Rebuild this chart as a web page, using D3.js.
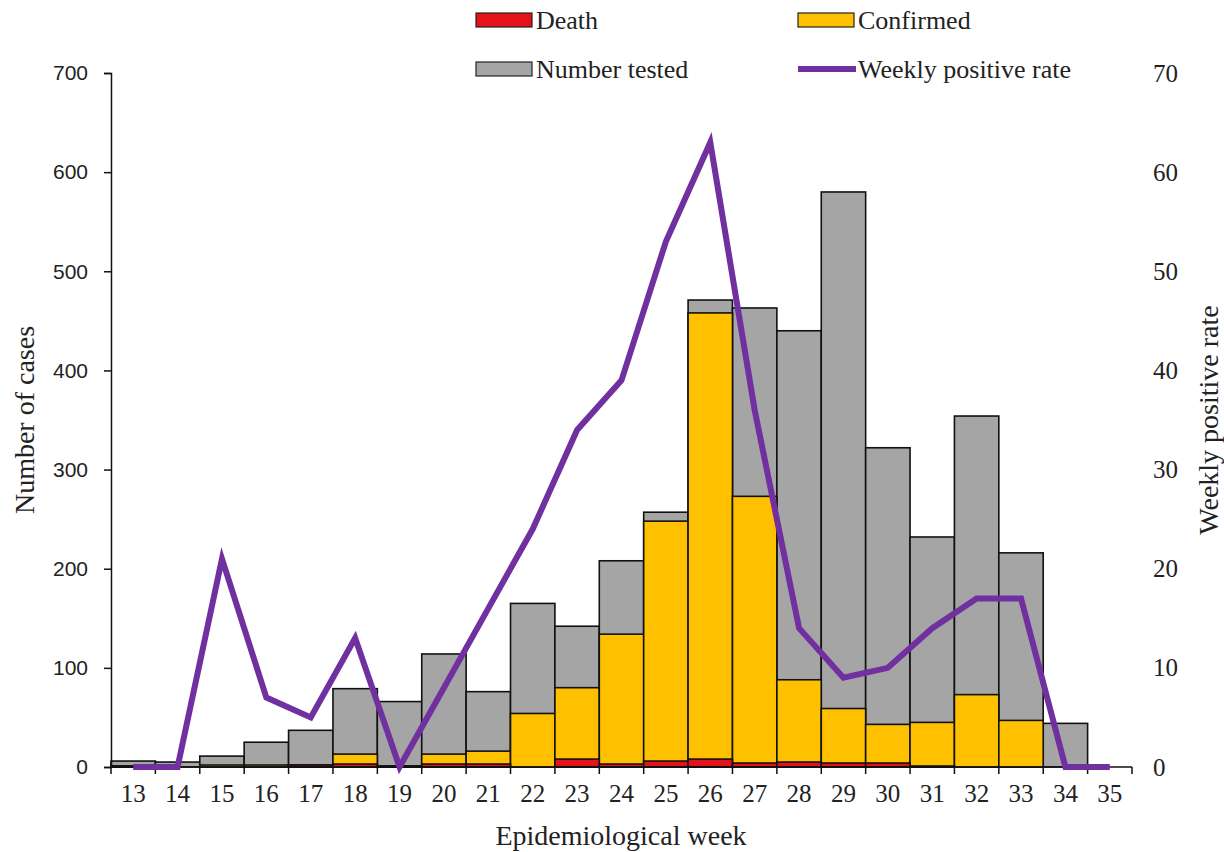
<!DOCTYPE html>
<html>
<head>
<meta charset="utf-8">
<script src="https://cdn.jsdelivr.net/npm/d3@7"></script>
<style>
  html, body { margin: 0; padding: 0; background: #fff; }
  svg text { fill: #222; }
</style>
</head>
<body>
<svg id="chart" width="1224" height="852"></svg>
<script>
// Data
const weeks = [13, 14, 15, 16, 17, 18, 19, 20, 21, 22, 23, 24, 25, 26, 27, 28, 29, 30, 31, 32, 33, 34, 35];
const tested = [6, 5, 11, 25, 37, 79, 66, 114, 76, 165, 142, 208, 257, 471, 463, 440, 580, 322, 232, 354, 216, 44, 0];
const confirmed = [1, 0, 2, 2, 2, 13, 1, 13, 16, 54, 80, 134, 248, 458, 273, 88, 59, 43, 45, 73, 47, 0, 0];
const deaths = [1, 0, 0, 0, 2, 3, 1, 3, 3, 0, 8, 3, 6, 8, 4, 5, 4, 4, 1, 0, 0, 0, 0];
const positiveRate = [0, 0, 21, 7, 5, 13, 0, 8, 16, 24, 34, 39, 53, 63, 36, 14, 9, 10, 14, 17, 17, 0, 0];
const leftTicks = [0, 100, 200, 300, 400, 500, 600, 700];
const rightTicks = [0, 10, 20, 30, 40, 50, 60, 70];

const serif = '"Liberation Serif", "DejaVu Serif", serif';
const sans = '"Liberation Sans", "DejaVu Sans", sans-serif';

const svg = d3.select('#chart');

// Plot area
const plotLeft = 111, plotRight = 1132, plotTop = 73, plotBottom = 767;

const x = d3.scaleBand().domain(weeks).range([plotLeft, plotRight]).padding(0);
const yCases = d3.scaleLinear().domain([0, 700]).range([plotBottom, plotTop]);
const yRate = d3.scaleLinear().domain([0, 70]).range([plotBottom, plotTop]);

// Bars: tested at the back, then confirmed, then deaths, all from zero
function drawBars(values, color, cls) {
  svg.append('g').attr('class', cls)
    .selectAll('rect')
    .data(weeks.map((w, i) => ({ week: w, value: values[i] })).filter(d => d.value > 0))
    .join('rect')
    .attr('x', d => x(d.week))
    .attr('width', x.bandwidth())
    .attr('y', d => yCases(d.value))
    .attr('height', d => yCases(0) - yCases(d.value))
    .attr('fill', color)
    .attr('stroke', '#111')
    .attr('stroke-width', 1.6);
}
drawBars(tested, '#a5a5a5', 'tested');
drawBars(confirmed, '#ffc000', 'confirmed');
drawBars(deaths, '#e3121b', 'deaths');

// Left axis
const leftAxis = d3.axisLeft(yCases).tickValues(leftTicks).tickSizeOuter(0).tickSize(7).tickPadding(16);
const gl = svg.append('g').attr('transform', `translate(${plotLeft},0)`).call(leftAxis);
gl.select('.domain').attr('stroke', '#111').attr('stroke-width', 1.5);
gl.selectAll('.tick line').attr('stroke', '#111').attr('stroke-width', 1.5);
gl.selectAll('.tick text').style('font-family', sans).style('font-size', '21px').attr('fill', '#222');

// Right axis: labels only, no line
const rightAxis = d3.axisRight(yRate).tickValues(rightTicks).tickSize(0).tickPadding(21);
const gr = svg.append('g').attr('transform', `translate(${plotRight},0)`).call(rightAxis);
gr.select('.domain').remove();
gr.selectAll('.tick text').style('font-family', serif).style('font-size', '25px').attr('fill', '#222');

// Bottom axis: ticks at category boundaries
const gb = svg.append('g').attr('transform', `translate(0,${plotBottom})`);
gb.append('line').attr('x1', plotLeft).attr('x2', plotRight).attr('stroke', '#111').attr('stroke-width', 1.5);
const boundaries = weeks.map(w => x(w)).concat([plotRight]);
gb.selectAll('line.tk').data(boundaries).join('line').attr('class', 'tk')
  .attr('x1', d => d).attr('x2', d => d).attr('y1', 0).attr('y2', 7)
  .attr('stroke', '#111').attr('stroke-width', 1.5);
gb.selectAll('text').data(weeks).join('text')
  .attr('x', d => x(d) + x.bandwidth() / 2)
  .attr('y', 35)
  .attr('text-anchor', 'middle')
  .style('font-family', serif).style('font-size', '25px')
  .text(d => d);

// Weekly positive rate line
const line = d3.line()
  .x((d, i) => x(weeks[i]) + x.bandwidth() / 2)
  .y(d => yRate(d));
svg.append('path')
  .datum(positiveRate)
  .attr('d', line)
  .attr('fill', 'none')
  .attr('stroke', '#7030a0')
  .attr('stroke-width', 6)
  .attr('stroke-linejoin', 'miter');

// Axis titles
svg.append('text')
  .attr('transform', 'translate(34,420) rotate(-90)')
  .attr('text-anchor', 'middle')
  .style('font-family', serif).style('font-size', '28px')
  .text('Number of cases');
svg.append('text')
  .attr('transform', 'translate(1218,420) rotate(-90)')
  .attr('text-anchor', 'middle')
  .style('font-family', serif).style('font-size', '28px')
  .text('Weekly positive rate');
svg.append('text')
  .attr('x', 621).attr('y', 845)
  .attr('text-anchor', 'middle')
  .style('font-family', serif).style('font-size', '28px')
  .text('Epidemiological week');

// Legend
const legendItems = [
  { label: 'Death', type: 'rect', color: '#e3121b', x: 476, y: 20 },
  { label: 'Confirmed', type: 'rect', color: '#ffc000', x: 798, y: 20 },
  { label: 'Number tested', type: 'rect', color: '#a5a5a5', x: 476, y: 69 },
  { label: 'Weekly positive rate', type: 'line', color: '#7030a0', x: 798, y: 69 }
];
const lg = svg.append('g').attr('class', 'legend');
legendItems.forEach(d => {
  if (d.type === 'rect') {
    lg.append('rect')
      .attr('x', d.x).attr('y', d.y - 7).attr('width', 56).attr('height', 14)
      .attr('fill', d.color).attr('stroke', '#222').attr('stroke-width', 1.2);
  } else {
    lg.append('line')
      .attr('x1', d.x).attr('x2', d.x + 58).attr('y1', d.y).attr('y2', d.y)
      .attr('stroke', d.color).attr('stroke-width', 6);
  }
  lg.append('text')
    .attr('x', d.x + 60).attr('y', d.y + 9)
    .style('font-family', serif).style('font-size', '26px')
    .text(d.label);
});
</script>
</body>
</html>
